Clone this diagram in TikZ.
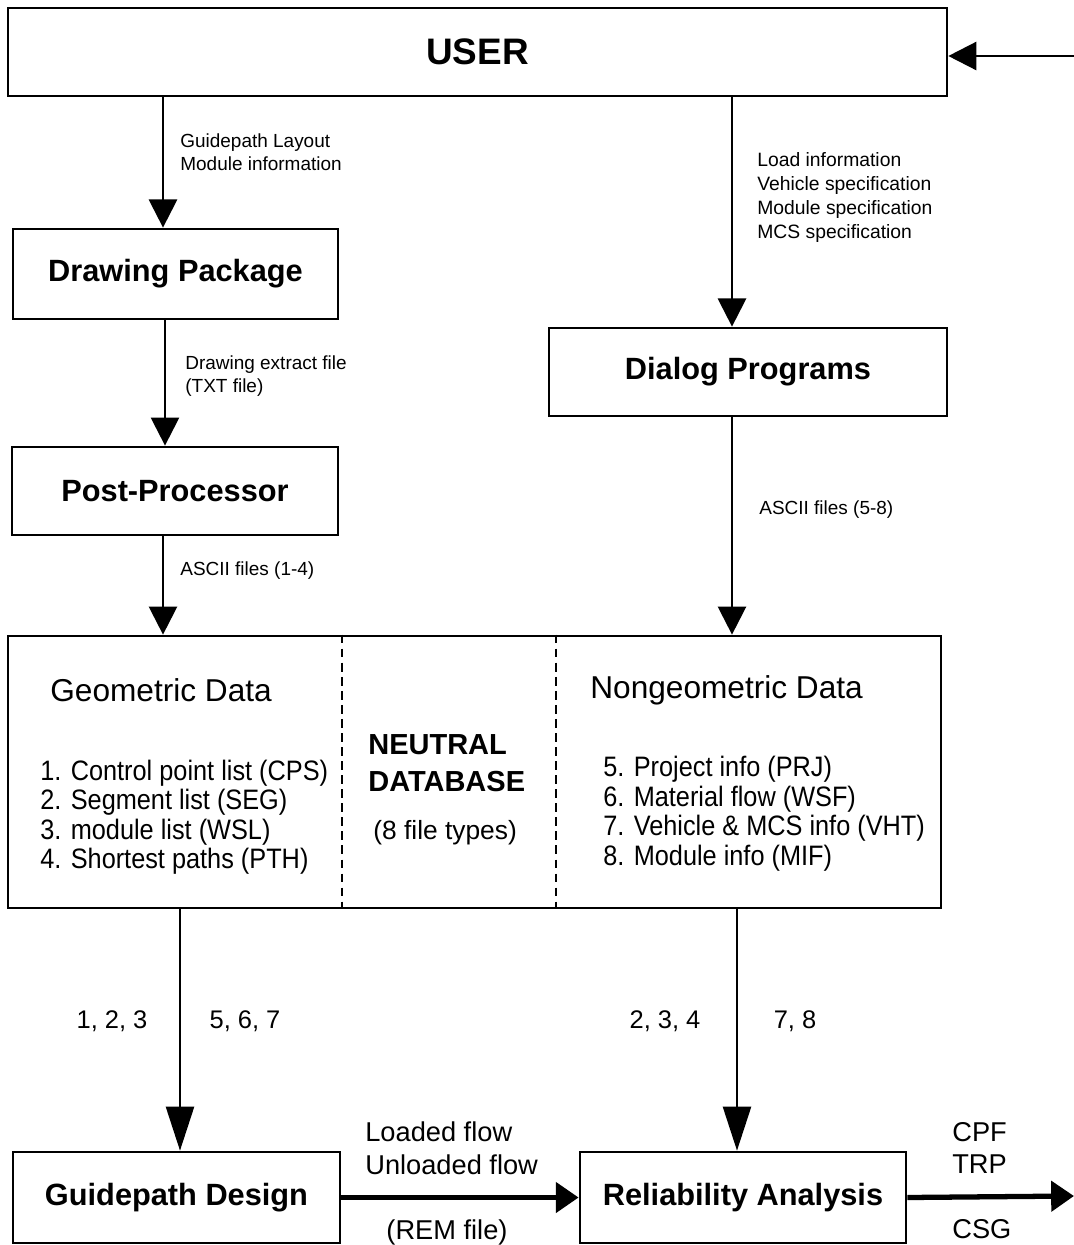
\documentclass[tikz,border=0pt]{standalone}
\usepackage{fontspec}
\setmainfont{Liberation Sans}
\newfontfamily\narrowsans[FakeStretch=0.9]{Liberation Sans}
\usetikzlibrary{arrows.meta}
\tikzset{
    box/.style = {rectangle, draw=black, line width=1.6pt, inner sep=0pt},
    title_box/.style = {box, font=\fontsize{17.5}{21}\selectfont\bfseries},
    small_label/.style = {align=left, anchor=west, inner sep=0pt, font=\fontsize{10.8}{13}\selectfont},
    list_text/.style = {align=left, anchor=west, inner sep=0pt, font=\narrowsans\fontsize{16}{16.8}\selectfont},
    head_text/.style = {anchor=west, inner sep=0pt, font=\fontsize{18}{21}\selectfont},
    num_label/.style = {inner sep=0pt, font=\fontsize{14.5}{17}\selectfont},
    flow_label/.style = {align=left, inner sep=0pt, font=\fontsize{15.5}{18.5}\selectfont}
}
\tikzset{
    flow/.style = {line width=1.4pt, -{Triangle[width=16pt,length=16pt]}},
    long_flow/.style = {line width=1.1pt, -{Triangle[width=16pt,length=25pt]}},
    thick_flow/.style = {line width=3pt, -{Triangle[width=17pt,length=13pt]}},
    sep_line/.style = {line width=0.6pt, dash pattern=on 5pt off 3pt}
}
\begin{document}
\begin{tikzpicture}[x=0.02cm, y=-0.02cm]
    \useasboundingbox (0,0) rectangle (1074,1245);

    % boxes
    \node [title_box, minimum width=18.78cm, minimum height=1.76cm,
           font=\fontsize{21}{25}\selectfont\bfseries] (user) at (477.5,52) {USER};
    \node [title_box, minimum width=6.5cm, minimum height=1.8cm] (drawpkg) at (175.5,274) {Drawing Package};
    \node [title_box, minimum width=6.52cm, minimum height=1.76cm] (postproc) at (175,491) {Post-Processor};
    \node [title_box, minimum width=7.96cm, minimum height=1.76cm] (dialog) at (748,372) {Dialog Programs};
    \node [box, minimum width=18.66cm, minimum height=5.44cm] (database) at (474.5,772) {};
    \node [title_box, minimum width=6.54cm, minimum height=1.82cm] (gpdesign) at (176.5,1197.5) {Guidepath Design};
    \node [title_box, minimum width=6.52cm, minimum height=1.82cm] (reliab) at (743,1197.5) {Reliability Analysis};

    % connector columns
    \coordinate (col_a) at (163,0);
    \coordinate (col_b) at (165,0);
    \coordinate (col_c) at (732,0);
    \coordinate (col_d) at (180,0);
    \coordinate (col_e) at (737,0);
    \coordinate (sep_a) at (342,0);
    \coordinate (sep_b) at (556,0);
    \coordinate (feedback) at (1074,56);
    \coordinate (output) at (1074,1196);

    % database columns
    \draw [sep_line] (database.north -| sep_a) -- (database.south -| sep_a);
    \draw [sep_line] (database.north -| sep_b) -- (database.south -| sep_b);

    % connectors
    \draw [flow] (feedback) -- (user.east |- feedback);
    \draw [flow] (user.south -| col_a) -- (drawpkg.north -| col_a);
    \draw [flow] (drawpkg.south -| col_b) -- (postproc.north -| col_b);
    \draw [flow] (postproc.south -| col_a) -- (database.north -| col_a);
    \draw [flow] (user.south -| col_c) -- (dialog.north -| col_c);
    \draw [flow] (dialog.south -| col_c) -- (database.north -| col_c);
    \draw [long_flow] (database.south -| col_d) -- (gpdesign.north -| col_d);
    \draw [long_flow] (database.south -| col_e) -- (reliab.north -| col_e);
    \draw [thick_flow] (gpdesign.east) -- (reliab.west);
    \draw [thick_flow] (reliab.east) -- (output);

    % connector labels
    \node [small_label] (lbl_layout) at (180,152) {Guidepath Layout\\Module information};
    \node [small_label] (lbl_extract) at (185,376) {Drawing extract file\\(TXT file)};
    \node [small_label] (lbl_ascii_a) at (180,571) {ASCII files (1-4)};
    \node [small_label, font=\fontsize{11}{13.6}\selectfont] (lbl_specs) at (757,197.5)
        {Load information\\Vehicle specification\\Module specification\\MCS specification};
    \node [small_label] (lbl_ascii_b) at (759,510) {ASCII files (5-8)};

    % database contents
    \node [head_text] (geo_head) at (50,690) {Geometric Data};
    \node [list_text] (geo_list) at (40,817)
        {1. Control point list (CPS)\\2. Segment list (SEG)\\3. module list (WSL)\\4. Shortest paths (PTH)};
    \node [align=left, anchor=west, inner sep=0pt, font=\fontsize{16.5}{21}\selectfont\bfseries]
        (db_name) at (368,763) {NEUTRAL\\DATABASE};
    \node [list_text, font=\fontsize{15}{18}\selectfont] (db_types) at (373,833) {(8 file types)};
    \node [head_text] (nongeo_head) at (590,690) {Nongeometric Data};
    \node [list_text] (nongeo_list) at (603,813.5)
        {5. Project info (PRJ)\\6. Material flow (WSF)\\7. Vehicle \& MCS info (VHT)\\8. Module info (MIF)};

    % file numbers
    \node [num_label] (num_a) at (112,1021) {1, 2, 3};
    \node [num_label] (num_b) at (245,1021) {5, 6, 7};
    \node [num_label] (num_c) at (665,1021) {2, 3, 4};
    \node [num_label] (num_d) at (795,1021) {7, 8};

    % bottom labels
    \node [flow_label, anchor=west] (lbl_flow) at (365,1148) {Loaded flow\\Unloaded flow};
    \node [flow_label] (lbl_rem) at (447,1232) {(REM file)};
    \node [flow_label, anchor=west] (lbl_cpf) at (952,1148) {CPF\\TRP};
    \node [flow_label, anchor=west] (lbl_csg) at (952,1229) {CSG};
\end{tikzpicture}
\end{document}
